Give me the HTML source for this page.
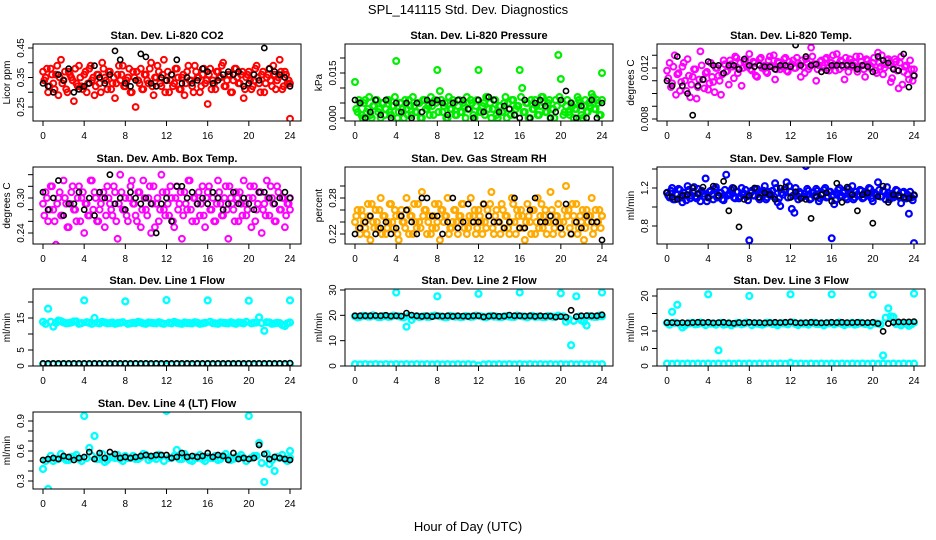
<!DOCTYPE html>
<html><head><meta charset="utf-8"><title>SPL_141115 Std. Dev. Diagnostics</title>
<style>
html,body{margin:0;padding:0;background:#fff;}
svg{display:block;font-family:"Liberation Sans",sans-serif;}
</style></head>
<body>
<svg id="chart" width="936" height="540" viewBox="0 0 936 540" xmlns="http://www.w3.org/2000/svg">
<rect x="0" y="0" width="936" height="540" fill="#fff"/>
<text x="468" y="14" text-anchor="middle" font-size="13">SPL_141115  Std. Dev. Diagnostics</text>
<text x="468" y="531" text-anchor="middle" font-size="13">Hour of Day (UTC)</text>
</svg>
<script>
// ---------- data ----------
const xTicks = [0,4,8,12,16,20,24];
const xTickLabels = ["0","4","8","12","16","20","24"];

const co2Red = [0.37,0.35,0.30,0.38,0.33,0.36,0.29,0.41,0.34,0.31,0.37,0.35,0.27,0.33,0.39,0.32,0.36,0.30,0.38,0.34,0.29,0.36,0.33,0.40,0.35,0.31,0.37,0.33,0.28,0.36,0.34,0.39,0.32,0.35,0.30,0.37,0.25,0.34,0.38,0.31,0.36,0.33,0.40,0.29,0.35,0.37,0.32,0.41,0.34,0.30,0.36,0.33,0.38,0.31,0.35,0.29,0.37,0.34,0.32,0.39,0.35,0.30,0.36,0.33,0.26,0.38,0.34,0.31,0.37,0.35,0.40,0.32,0.36,0.30,0.34,0.38,0.33,0.36,0.28,0.35,0.37,0.31,0.34,0.39,0.33,0.36,0.30,0.35,0.38,0.32,0.36,0.34,0.41,0.31,0.37,0.33,0.21];
const co2Red2 = [0.34,0.38,0.32,0.36,0.31,0.39,0.35,0.33,0.37,0.30,0.36,0.34,0.38,0.32,0.35,0.31,0.37,0.33,0.39,0.35,0.32,0.36,0.30,0.38,0.34,0.37,0.31,0.35,0.33,0.39,0.36,0.32,0.34,0.38,0.30,0.35,0.37,0.33,0.31,0.36,0.34,0.38,0.32,0.35,0.39,0.33,0.36,0.30,0.37,0.34,0.32,0.38,0.35,0.31,0.36,0.33,0.39,0.34,0.30,0.37,0.35,0.32,0.38,0.34,0.36,0.31,0.33,0.37,0.35,0.39,0.32,0.34,0.36,0.30,0.38,0.35,0.33,0.37,0.31,0.36,0.34,0.32,0.38,0.35,0.30,0.37,0.33,0.36,0.34,0.39,0.31,0.35,0.37,0.32,0.36,0.34,0.33];
const co2Black = [0.33,0.32,0.30,0.36,0.34,0.38,0.30,0.31,0.32,0.33,0.39,0.35,0.33,0.36,0.44,0.41,0.33,0.32,0.34,0.43,0.42,0.33,0.32,0.35,0.34,0.36,0.41,0.33,0.35,0.33,0.34,0.38,0.37,0.33,0.34,0.36,0.37,0.36,0.37,0.32,0.33,0.36,0.34,0.45,0.38,0.37,0.36,0.35,0.32];

const presGreen = [0.012,0.002,0.005,0.000,0.006,0.003,0.001,0.004,0.006,0.002,0.000,0.005,0.003,0.006,0.001,0.004,0.019,0.002,0.005,0.000,0.003,0.006,0.001,0.004,0.002,0.005,0.000,0.006,0.003,0.001,0.004,0.006,0.016,0.009,0.002,0.005,0.000,0.003,0.006,0.001,0.004,0.002,0.005,0.000,0.003,0.006,0.001,0.004,0.016,0.002,0.005,0.007,0.003,0.000,0.006,0.001,0.004,0.002,0.005,0.000,0.003,0.006,0.001,0.004,0.016,0.010,0.002,0.005,0.000,0.003,0.006,0.001,0.004,0.007,0.002,0.005,0.000,0.003,0.006,0.021,0.013,0.001,0.004,0.002,0.005,0.000,0.003,0.006,0.001,0.004,0.002,0.005,0.008,0.003,0.006,0.001,0.015];
const presGreen2 = [0.003,0.006,0.001,0.005,0.002,0.007,0.000,0.004,0.006,0.003,0.005,0.001,0.006,0.002,0.004,0.007,0.000,0.005,0.003,0.006,0.001,0.004,0.007,0.002,0.005,0.000,0.006,0.003,0.004,0.007,0.001,0.005,0.002,0.006,0.004,0.000,0.007,0.003,0.005,0.001,0.006,0.002,0.004,0.007,0.003,0.005,0.000,0.006,0.002,0.004,0.001,0.007,0.005,0.003,0.006,0.000,0.004,0.002,0.007,0.005,0.001,0.006,0.003,0.004,0.007,0.002,0.005,0.000,0.006,0.003,0.004,0.001,0.007,0.005,0.002,0.006,0.003,0.000,0.004,0.007,0.005,0.002,0.006,0.001,0.004,0.003,0.007,0.005,0.000,0.006,0.002,0.004,0.007,0.003,0.005,0.001,0.006];
const presBlack = [0.006,0.005,0.000,0.002,0.006,0.001,0.006,0.000,0.005,0.002,0.005,0.000,0.005,0.002,0.006,0.005,0.006,0.005,0.001,0.005,0.006,0.006,0.003,0.000,0.006,0.002,0.007,0.006,0.002,0.004,0.003,0.001,0.000,0.006,0.000,0.005,0.006,0.004,0.000,0.002,0.006,0.009,0.005,0.000,0.004,0.000,0.006,0.000,0.005];

const tempMagenta = [0.0118,0.0124,0.0108,0.0130,0.0115,0.0102,0.0121,0.0110,0.0127,0.0097,0.0113,0.0119,0.0105,0.0133,0.0111,0.0116,0.0103,0.0124,0.0109,0.0120,0.0114,0.0099,0.0126,0.0117,0.0107,0.0123,0.0112,0.0128,0.0119,0.0106,0.0125,0.0121,0.0131,0.0118,0.0124,0.0113,0.0127,0.0120,0.0122,0.0116,0.0129,0.0121,0.0111,0.0125,0.0119,0.0123,0.0128,0.0117,0.0122,0.0126,0.0120,0.0124,0.0113,0.0121,0.0127,0.0119,0.0136,0.0123,0.0110,0.0122,0.0126,0.0120,0.0128,0.0118,0.0124,0.0122,0.0131,0.0119,0.0125,0.0111,0.0123,0.0127,0.0121,0.0124,0.0117,0.0129,0.0122,0.0113,0.0126,0.0120,0.0124,0.0118,0.0132,0.0121,0.0115,0.0123,0.0127,0.0109,0.0120,0.0125,0.0104,0.0129,0.0117,0.0122,0.0111,0.0119,0.0114];
const tempMagenta2 = [0.0112,0.0105,0.0121,0.0099,0.0116,0.0109,0.0124,0.0102,0.0114,0.0107,0.0119,0.0096,0.0111,0.0122,0.0104,0.0117,0.0108,0.0113,0.0101,0.0120,0.0110,0.0115,0.0123,0.0118,0.0126,0.0121,0.0129,0.0116,0.0124,0.0120,0.0127,0.0122,0.0119,0.0125,0.0114,0.0123,0.0128,0.0121,0.0117,0.0126,0.0122,0.0130,0.0119,0.0124,0.0121,0.0127,0.0118,0.0125,0.0123,0.0120,0.0128,0.0122,0.0126,0.0116,0.0124,0.0121,0.0129,0.0123,0.0119,0.0125,0.0122,0.0127,0.0120,0.0124,0.0130,0.0118,0.0123,0.0126,0.0121,0.0128,0.0117,0.0124,0.0122,0.0129,0.0120,0.0125,0.0119,0.0127,0.0123,0.0121,0.0128,0.0116,0.0124,0.0130,0.0120,0.0126,0.0122,0.0112,0.0127,0.0118,0.0124,0.0107,0.0121,0.0115,0.0126,0.0110,0.0119];
const tempBlack = [0.0110,0.0106,0.0129,0.0106,0.0100,0.0083,0.0106,0.0111,0.0125,0.0122,0.0122,0.0116,0.0122,0.0122,0.0119,0.0127,0.0122,0.0121,0.0122,0.0121,0.0121,0.0119,0.0122,0.0122,0.0121,0.0138,0.0122,0.0129,0.0122,0.0123,0.0117,0.0118,0.0122,0.0122,0.0122,0.0122,0.0122,0.0119,0.0122,0.0121,0.0117,0.0129,0.0126,0.0124,0.0119,0.0118,0.0131,0.0105,0.0114];

const boxMagenta = [0.29,0.31,0.26,0.32,0.28,0.22,0.30,0.27,0.33,0.29,0.25,0.31,0.28,0.26,0.32,0.30,0.24,0.29,0.27,0.33,0.31,0.26,0.28,0.30,0.25,0.32,0.29,0.27,0.31,0.23,0.34,0.28,0.30,0.26,0.32,0.29,0.27,0.31,0.25,0.33,0.28,0.30,0.24,0.32,0.29,0.26,0.34,0.28,0.31,0.27,0.30,0.25,0.32,0.29,0.23,0.31,0.28,0.33,0.26,0.30,0.29,0.27,0.32,0.25,0.31,0.28,0.30,0.26,0.33,0.29,0.27,0.32,0.23,0.30,0.28,0.31,0.26,0.29,0.33,0.27,0.30,0.25,0.32,0.28,0.31,0.24,0.29,0.33,0.27,0.30,0.26,0.32,0.28,0.30,0.25,0.29,0.28];
const boxMagenta2 = [0.27,0.30,0.28,0.32,0.26,0.29,0.31,0.27,0.30,0.25,0.29,0.32,0.28,0.30,0.26,0.31,0.29,0.27,0.33,0.28,0.30,0.26,0.29,0.31,0.27,0.30,0.28,0.32,0.26,0.29,0.31,0.28,0.27,0.30,0.33,0.29,0.26,0.31,0.28,0.30,0.27,0.32,0.29,0.25,0.30,0.28,0.31,0.27,0.29,0.32,0.26,0.30,0.28,0.31,0.27,0.29,0.33,0.28,0.30,0.26,0.31,0.29,0.27,0.30,0.32,0.28,0.26,0.29,0.31,0.27,0.30,0.28,0.32,0.29,0.26,0.30,0.31,0.27,0.29,0.28,0.32,0.30,0.26,0.29,0.31,0.28,0.27,0.30,0.32,0.29,0.26,0.31,0.28,0.30,0.27,0.29,0.30];
const boxBlack = [0.31,0.28,0.30,0.33,0.27,0.29,0.29,0.31,0.28,0.30,0.27,0.31,0.30,0.34,0.29,0.30,0.28,0.31,0.30,0.29,0.30,0.29,0.24,0.29,0.30,0.26,0.32,0.32,0.30,0.31,0.29,0.30,0.29,0.31,0.30,0.28,0.29,0.31,0.29,0.30,0.29,0.28,0.31,0.31,0.30,0.29,0.30,0.31,0.30];

const rhOrange = [0.24,0.26,0.22,0.25,0.23,0.27,0.21,0.24,0.26,0.23,0.28,0.25,0.22,0.24,0.27,0.23,0.25,0.21,0.26,0.24,0.28,0.22,0.25,0.27,0.23,0.24,0.29,0.26,0.22,0.25,0.23,0.27,0.24,0.21,0.26,0.25,0.28,0.23,0.24,0.26,0.22,0.25,0.27,0.24,0.23,0.28,0.25,0.22,0.26,0.24,0.27,0.23,0.25,0.29,0.22,0.26,0.24,0.27,0.23,0.25,0.22,0.28,0.24,0.26,0.23,0.25,0.21,0.27,0.24,0.26,0.22,0.28,0.25,0.23,0.26,0.24,0.29,0.22,0.25,0.27,0.23,0.24,0.30,0.26,0.22,0.25,0.27,0.23,0.24,0.21,0.26,0.25,0.28,0.23,0.24,0.26,0.25];
const rhOrange2 = [0.25,0.23,0.26,0.24,0.22,0.25,0.27,0.23,0.24,0.26,0.22,0.25,0.23,0.27,0.24,0.26,0.22,0.25,0.24,0.23,0.26,0.25,0.22,0.24,0.27,0.23,0.25,0.26,0.24,0.22,0.25,0.23,0.27,0.26,0.24,0.25,0.22,0.23,0.26,0.24,0.25,0.27,0.23,0.22,0.25,0.24,0.26,0.23,0.25,0.22,0.24,0.26,0.27,0.23,0.25,0.24,0.22,0.26,0.25,0.23,0.24,0.27,0.22,0.25,0.26,0.23,0.24,0.25,0.22,0.26,0.24,0.23,0.27,0.25,0.22,0.24,0.26,0.23,0.25,0.24,0.22,0.26,0.25,0.23,0.27,0.24,0.22,0.25,0.26,0.23,0.24,0.25,0.22,0.26,0.24,0.23,0.25];
const rhBlack = [0.22,0.23,0.24,0.25,0.22,0.23,0.24,0.22,0.23,0.25,0.26,0.24,0.22,0.28,0.28,0.25,0.25,0.22,0.24,0.28,0.23,0.24,0.27,0.24,0.24,0.27,0.25,0.24,0.24,0.23,0.24,0.28,0.23,0.23,0.26,0.28,0.24,0.24,0.25,0.24,0.23,0.27,0.22,0.24,0.23,0.25,0.24,0.24,0.21];

const flowBlue = [1.15,1.10,1.20,1.08,1.13,1.18,1.05,1.12,1.22,1.09,1.16,1.11,1.19,1.06,1.14,1.30,1.10,1.17,1.08,1.21,1.12,1.15,1.07,1.34,1.13,1.18,1.10,1.16,1.09,1.20,1.14,1.11,0.65,1.17,1.12,1.19,1.08,1.15,1.22,1.10,1.14,1.17,1.25,1.05,1.01,1.13,1.18,1.10,1.16,1.12,1.20,1.08,1.14,1.11,1.43,1.17,1.09,1.15,1.19,1.06,1.13,1.18,1.10,1.16,0.67,1.03,1.14,1.20,1.11,1.17,1.08,1.15,1.22,1.10,1.13,1.18,1.09,1.16,1.12,1.19,1.06,1.14,1.26,1.11,1.17,1.08,1.15,1.13,1.10,1.18,1.12,1.04,1.16,1.09,0.93,1.10,0.62];
const flowBlue2 = [1.12,1.17,1.08,1.14,1.19,1.10,1.15,1.07,1.18,1.12,1.21,1.09,1.14,1.17,1.11,1.06,1.16,1.13,1.19,1.10,1.15,1.08,1.18,1.12,1.14,1.20,1.09,1.16,1.11,1.13,1.18,1.07,1.15,1.12,1.19,1.10,1.14,1.17,1.08,1.16,1.13,1.11,1.20,1.09,1.15,1.18,1.26,1.22,0.98,0.94,1.12,1.16,1.10,1.14,1.19,1.08,1.15,1.12,1.17,1.09,1.14,1.20,1.11,1.16,1.13,1.07,1.18,1.12,1.15,1.10,1.19,1.14,1.08,1.16,1.12,1.17,1.10,1.14,1.20,1.09,1.15,1.13,1.18,1.11,1.16,1.21,1.08,1.14,1.12,1.17,1.10,1.15,1.09,1.13,1.16,1.07,1.12];
const flowBlack = [1.15,1.10,1.08,1.12,1.13,1.20,1.14,1.21,1.10,1.22,1.12,1.27,0.96,1.20,0.79,1.08,1.12,1.20,1.10,1.15,1.13,1.08,1.20,1.21,1.10,1.16,1.09,1.08,0.88,1.11,1.13,1.15,1.06,1.25,1.05,1.21,1.13,0.96,1.13,1.15,0.83,1.11,1.22,1.05,1.13,1.12,1.10,1.09,1.13];

const line1Cyan = [13.8,17.9,12.3,14.2,13.6,13.4,13.9,13.2,20.5,13.5,15.0,13.3,13.6,13.4,13.2,13.5,20.2,13.3,13.4,13.6,13.2,13.5,13.3,13.4,20.6,13.3,13.5,13.2,13.4,13.3,13.5,13.3,20.5,13.4,13.2,13.5,13.3,13.4,13.6,13.3,20.4,13.5,15.2,11.0,13.6,13.3,13.4,12.5,20.5];
const line1Cyan2 = [13.2,13.8,13.5,14.0,13.3,13.6,13.9,13.4,13.7,13.2,13.5,13.8,13.3,13.6,13.4,13.7,13.2,13.5,13.8,13.3,13.6,13.4,13.7,13.2,13.5,13.8,13.3,13.6,13.4,13.7,13.2,13.5,13.8,13.3,13.6,13.4,13.7,13.2,13.5,13.8,13.3,13.6,13.4,13.7,13.2,13.5,12.8,13.3,13.6];
const line1CyanLow = [0.6,0.5,0.6,0.5,0.6,0.5,0.6,0.5,0.6,0.5,0.6,0.5,0.6,0.5,0.6,0.5,0.6,0.5,0.6,0.5,0.6,0.5,0.6,0.5,0.2,0.5,0.6,0.5,0.6,0.5,0.6,0.5,0.6,0.5,0.6,0.5,0.6,0.5,0.6,0.5,0.6,0.5,0.6,0.5,0.6,0.5,0.6,0.5,0.6];
const line1Black = [0.8,0.8,0.8,0.8,0.8,0.8,0.8,0.8,0.8,0.8,0.8,0.8,0.8,0.8,0.8,0.8,0.8,0.8,0.8,0.8,0.8,0.8,0.8,0.8,0.8,0.8,0.8,0.8,0.8,0.8,0.8,0.8,0.8,0.8,0.8,0.8,0.8,0.8,0.8,0.8,0.8,0.8,0.8,0.8,0.8,0.8,0.8,0.8,0.9];

const line2Cyan = [19.6,19.4,19.8,19.5,19.7,19.3,19.6,19.5,29.0,19.4,15.5,18.2,19.6,19.5,19.4,19.7,27.5,19.5,19.3,19.6,19.5,19.4,19.6,19.5,28.5,19.4,19.6,19.5,19.3,19.6,19.5,19.4,29.0,19.5,19.6,19.4,19.5,19.3,19.6,19.5,28.7,17.5,8.2,27.5,18.0,16.0,19.5,19.4,29.0];
const line2Cyan2 = [19.2,19.8,19.5,20.0,19.3,19.7,19.4,19.9,19.6,19.2,19.8,19.5,19.3,19.7,19.4,19.9,19.6,19.2,19.8,19.5,19.3,19.7,19.4,19.9,19.6,19.2,19.8,19.5,19.3,19.7,19.4,19.9,19.6,19.2,19.8,19.5,19.3,19.7,19.4,19.9,19.6,18.5,17.8,19.5,17.5,19.7,19.4,19.9,19.6];
const line2CyanLow = [0.7,0.6,0.7,0.6,0.7,0.6,0.7,0.6,0.7,0.6,0.7,0.6,0.7,0.6,0.7,0.6,0.7,0.6,0.7,0.6,0.7,0.6,0.7,0.6,0.2,0.6,0.7,0.6,0.7,0.6,0.7,0.6,0.7,0.6,0.7,0.6,0.7,0.6,0.7,0.6,0.7,0.6,0.7,0.6,0.7,0.6,0.7,0.6,0.7];
const line2Black = [19.8,19.8,19.8,19.8,19.9,19.8,20.0,19.7,19.8,19.7,20.9,20.1,19.8,19.6,19.8,19.5,19.8,19.7,19.8,19.6,19.8,19.7,19.6,19.8,19.8,19.4,19.7,19.8,19.6,19.7,20.1,19.8,19.8,19.7,19.8,19.6,19.8,19.7,19.7,19.3,19.5,19.3,22.0,19.5,19.8,19.9,19.8,19.8,20.2];

const line3Cyan = [12.3,15.5,17.5,11.0,12.1,12.3,12.0,12.2,20.5,12.1,4.5,11.8,12.2,12.0,12.3,12.1,20.0,12.2,12.0,12.1,12.3,12.0,12.2,12.1,20.5,12.0,12.2,12.1,12.3,12.0,12.2,12.1,20.5,12.2,12.0,12.1,12.3,12.0,12.2,12.1,20.4,12.1,3.0,16.5,14.0,12.2,12.1,11.5,20.7];
const line3Cyan2 = [11.8,12.3,12.0,11.6,12.2,11.9,12.4,11.7,12.1,11.8,12.3,12.0,11.6,12.2,11.9,12.4,11.7,12.1,11.8,12.3,12.0,11.6,12.2,11.9,12.4,11.7,12.1,11.8,12.3,12.0,11.6,12.2,11.9,12.4,11.7,12.1,11.8,12.3,12.0,11.6,12.2,11.9,13.8,14.2,12.0,11.6,12.2,11.9,12.4];
const line3CyanLow = [0.7,0.6,0.7,0.6,0.7,0.6,0.7,0.6,0.7,0.6,0.7,0.6,0.7,0.6,0.7,0.6,0.7,0.6,0.7,0.6,0.7,0.6,0.7,0.6,0.9,0.6,0.7,0.6,0.7,0.6,0.7,0.6,0.7,0.6,0.7,0.6,0.7,0.6,0.7,0.6,0.7,0.6,0.7,0.6,0.7,0.6,0.7,0.6,0.7];
const line3Black = [12.4,12.4,12.3,12.4,12.3,12.4,12.5,12.4,12.5,12.3,12.4,12.5,12.3,12.2,12.4,12.3,12.5,12.4,12.4,12.3,12.4,12.5,12.4,12.5,12.6,12.4,12.3,12.4,12.5,12.4,12.3,12.4,12.5,12.4,12.5,12.4,12.4,12.5,12.4,12.4,12.5,12.1,9.9,12.1,12.5,12.6,12.6,12.6,12.7];

const line4Cyan = [0.42,0.22,0.50,0.52,0.53,0.51,0.54,0.52,0.95,0.63,0.75,0.52,0.49,0.54,0.53,0.52,0.55,0.53,0.52,0.54,0.56,0.53,0.52,0.55,1.00,0.53,0.61,0.52,0.54,0.50,0.53,0.52,0.54,0.53,0.51,0.55,0.53,0.52,0.54,0.53,0.95,0.55,0.68,0.29,0.47,0.40,0.53,0.52,0.60];
const line4Cyan2 = [0.50,0.55,0.52,0.57,0.51,0.54,0.56,0.50,0.53,0.55,0.52,0.57,0.51,0.54,0.56,0.50,0.53,0.55,0.52,0.57,0.51,0.54,0.56,0.50,0.53,0.55,0.52,0.57,0.51,0.54,0.56,0.50,0.53,0.55,0.52,0.57,0.51,0.54,0.56,0.50,0.53,0.55,0.48,0.57,0.51,0.54,0.56,0.50,0.53];
const line4Black = [0.51,0.52,0.53,0.52,0.55,0.54,0.51,0.53,0.54,0.59,0.52,0.58,0.53,0.59,0.57,0.53,0.54,0.53,0.54,0.55,0.56,0.55,0.56,0.56,0.56,0.53,0.54,0.58,0.54,0.55,0.54,0.55,0.58,0.54,0.56,0.55,0.51,0.58,0.52,0.53,0.52,0.53,0.66,0.57,0.52,0.54,0.53,0.52,0.51];

const co2Ticks = [0.25,0.30,0.35,0.40,0.45];
const co2TickLabels = ["0.25","","0.35","","0.45"];
const presTicks = [0,0.005,0.010,0.015,0.020];
const presTickLabels = ["0.000","","","0.015",""];
const tempTicks = [0.008,0.009,0.010,0.011,0.012,0.013];
const tempTickLabels = ["0.008","","","","0.012",""];
const boxTicks = [0.24,0.26,0.28,0.30,0.32,0.34];
const boxTickLabels = ["0.24","","","0.30","",""];
const rhTicks = [0.22,0.24,0.26,0.28,0.30];
const rhTickLabels = ["0.22","","","0.28",""];
const flowTicks = [0.8,1.0,1.2,1.4];
const flowTickLabels = ["0.8","","1.2",""];
const line1Ticks = [0,5,10,15,20];
const line1TickLabels = ["0","5","","15",""];
const line2Ticks = [0,10,20,30];
const line2TickLabels = ["0","10","20","30"];
const line3Ticks = [0,5,10,15,20];
const line3TickLabels = ["0","5","10","","20"];
const line4Ticks = [0.3,0.4,0.5,0.6,0.7,0.8,0.9];
const line4TickLabels = ["0.3","","","0.6","","","0.9"];

// ---------- layout ----------
const NS = "http://www.w3.org/2000/svg";
const svg = document.getElementById("chart");
const rowBottoms = [121,244,366,489];
function mk(tag, attrs, parent){
  const e = document.createElementNS(NS, tag);
  for (const k in attrs) e.setAttribute(k, attrs[k]);
  (parent||svg).appendChild(e);
  return e;
}
const R = "#ff0000", G = "#00ee00", M = "#ff00ff", O = "#ffaa00", B = "#0000ff", C = "#00ffff", K = "#000";
const panels = [
 {key:"co2",title:"Stan. Dev. Li-820 CO2",ylab:"Licor ppm",row:0,col:0,v0:0.25,p0:107,v1:0.45,p1:48,ticks:co2Ticks,labels:co2TickLabels,series:[[co2Red,R,2,0],[co2Red2,R,2,0.5],[co2Black,K,1.6,0]]},
 {key:"pressure",title:"Stan. Dev. Li-820 Pressure",ylab:"kPa",row:0,col:1,v0:0,p0:118,v1:0.015,p1:73,ticks:presTicks,labels:presTickLabels,series:[[presGreen,G,2.2,0],[presGreen2,G,2.2,0.5],[presBlack,K,1.6,0]]},
 {key:"temp",title:"Stan. Dev. Li-820 Temp.",ylab:"degrees C",row:0,col:2,v0:0.008,p0:119,v1:0.012,p1:68,ticks:tempTicks,labels:tempTickLabels,series:[[tempMagenta,M,2,0],[tempMagenta2,M,2,0.5],[tempBlack,K,1.6,0]]},
 {key:"box-temp",title:"Stan. Dev. Amb. Box Temp.",ylab:"degrees C",row:1,col:0,v0:0.24,p0:233,v1:0.30,p1:198,ticks:boxTicks,labels:boxTickLabels,series:[[boxMagenta,M,2,0],[boxMagenta2,M,2,0.5],[boxBlack,K,1.6,0]]},
 {key:"rh",title:"Stan. Dev. Gas Stream RH",ylab:"percent",row:1,col:1,v0:0.22,p0:234,v1:0.28,p1:198,ticks:rhTicks,labels:rhTickLabels,series:[[rhOrange,O,2.2,0],[rhOrange2,O,2.2,0.5],[rhBlack,K,1.6,0]]},
 {key:"sample-flow",title:"Stan. Dev. Sample Flow",ylab:"ml/min",row:1,col:2,v0:0.8,p0:226,v1:1.2,p1:188,ticks:flowTicks,labels:flowTickLabels,series:[[flowBlue,B,2.2,0],[flowBlue2,B,2.2,0.5],[flowBlack,K,1.6,0]]},
 {key:"line1",title:"Stan. Dev. Line 1 Flow",ylab:"ml/min",row:2,col:0,v0:0,p0:366,v1:15,p1:318,ticks:line1Ticks,labels:line1TickLabels,series:[[line1Cyan,C,2.4,0],[line1Cyan2,C,2.4,0.5],[line1CyanLow,C,2.4,0],[line1Black,K,1.6,0]]},
 {key:"line2",title:"Stan. Dev. Line 2 Flow",ylab:"ml/min",row:2,col:1,v0:0,p0:366,v1:30,p1:290,ticks:line2Ticks,labels:line2TickLabels,series:[[line2Cyan,C,2.4,0],[line2Cyan2,C,2.4,0.5],[line2CyanLow,C,2.4,0],[line2Black,K,1.6,0]]},
 {key:"line3",title:"Stan. Dev. Line 3 Flow",ylab:"ml/min",row:2,col:2,v0:0,p0:366,v1:20,p1:296,ticks:line3Ticks,labels:line3TickLabels,series:[[line3Cyan,C,2.4,0],[line3Cyan2,C,2.4,0.5],[line3CyanLow,C,2.4,0],[line3Black,K,1.6,0]]},
 {key:"line4",title:"Stan. Dev. Line 4 (LT) Flow",ylab:"ml/min",row:3,col:0,v0:0.3,p0:481,v1:0.9,p1:421,ticks:line4Ticks,labels:line4TickLabels,series:[[line4Cyan,C,2.4,0],[line4Cyan2,C,2.4,0.5],[line4Black,K,1.6,0]]}
];

panels.forEach(p => {
  const bx0 = 33 + p.col*312, bx1 = 301 + p.col*312;
  const by1 = rowBottoms[p.row], by0 = by1 - 77;
  const hx0 = 43 + p.col*312, hx1 = 290 + p.col*312;
  const xs = h => hx0 + (h/24)*(hx1-hx0);
  const ys = v => p.p0 + (v-p.v0)*(p.p1-p.p0)/(p.v1-p.v0);
  const g = mk("g", {});
  
  
  const t = mk("text", {x:(bx0+bx1)/2, y:by0-5, "text-anchor":"middle","font-size":"11","font-weight":"bold"}, g);
  t.textContent = p.title;
  
  
  const cp = mk("clipPath", {id:"clip-"+p.key}, g);
  mk("rect", {x:bx0, y:by0, width:bx1-bx0, height:by1-by0}, cp);
  const pts = mk("g", {"clip-path":"url(#clip-"+p.key+")", fill:"none"}, g);
  
  
  p.series.forEach(s => {
    const arr = s[0], col = s[1], sw = s[2], off = s[3], n = arr.length;
    arr.forEach((v,i) => {
      const h = Math.min(24, (i+off)*24/(n-1));
      const c = mk("circle", {cx:xs(h).toFixed(1), cy:ys(v).toFixed(1), r:(col===K?2.6:2.9), stroke:col, "stroke-width":sw}, pts);
      
      
    });
  });
  const box = mk("rect", {x:bx0, y:by0, width:bx1-bx0, height:by1-by0, fill:"none", stroke:"#000", "stroke-width":1}, g);
  
  
  const xa = mk("g", {}, g);
  
  
  xTicks.forEach((h,i) => {
    const x = xs(h);
    mk("line", {x1:x, x2:x, y1:by1, y2:by1+5, stroke:"#000"}, xa);
    const lt = mk("text", {x:x, y:by1+18, "text-anchor":"middle","font-size":"10"}, xa);
    lt.textContent = xTickLabels[i];
    
    
  });
  const ya = mk("g", {}, g);
  
  
  p.ticks.forEach((v,i) => {
    const y = ys(v);
    mk("line", {x1:bx0-5, x2:bx0, y1:y, y2:y, stroke:"#000"}, ya);
    if (p.labels[i]) {
      const lt = mk("text", {x:bx0-9, y:y, "text-anchor":"middle","font-size":"10", transform:"rotate(-90 "+(bx0-9)+" "+y+")"}, ya);
      lt.textContent = p.labels[i];
      
      
    }
  });
  const yl = mk("text", {x:bx0-23, y:(by0+by1)/2, "text-anchor":"middle","font-size":"10", transform:"rotate(-90 "+(bx0-23)+" "+((by0+by1)/2)+")"}, g);
  yl.textContent = p.ylab;
  
  
});
</script>
</body></html>
